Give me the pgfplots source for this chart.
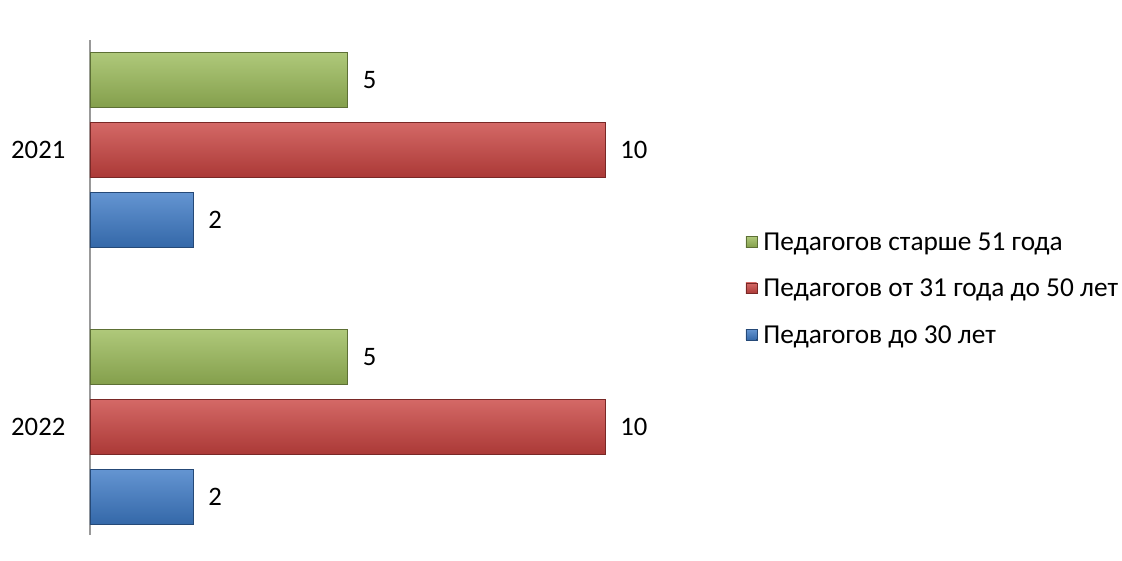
\documentclass[border=0pt]{standalone}
\usepackage{pgfplots}
\pgfplotsset{compat=1.18}
\usepackage{fontspec}
\setmainfont{Carlito}
\definecolor{gM}{HTML}{9BBB59}
\definecolor{rM}{HTML}{C94340}
\definecolor{bM}{HTML}{3D7AC6}
\pgfplotsset{
  gbar/.style={draw=gM!60!black, line width=0.3pt, top color=gM!80!white, middle color=gM, bottom color=gM!85!black},
  rbar/.style={draw=rM!60!black, line width=0.3pt, top color=rM!80!white, middle color=rM, bottom color=rM!85!black},
  bbar/.style={draw=bM!60!black, line width=0.3pt, top color=bM!80!white, middle color=bM, bottom color=bM!85!black},
}
\begin{document}
\begin{tikzpicture}
\path[use as bounding box] (0,0) rectangle (841.5pt,420.75pt);
\begin{axis}[
  at={(67.5pt,19.5pt)}, anchor=south west,
  scale only axis, width=386.25pt, height=371.25pt,
  xmin=0, xmax=10, ymin=-0.39, ymax=1.397,
  axis x line=none,
  axis y line*=left,
  y axis line style={draw=gray!80, line width=0.8pt, -},
  ytick={0,1}, yticklabels={2022,2021},
  major tick length=0pt,
  /pgf/number format/assume math mode=true,
  yticklabel style={font=\fontsize{20}{24}\selectfont, xshift=-15pt},
  xbar, bar width=0.1986,
  clip=false,
  nodes near coords,
  every node near coord/.append style={font=\fontsize{20}{24}\selectfont, anchor=west, xshift=8pt, text=black},
  legend style={at={(1.273,0.497)}, anchor=west, draw=none, fill=none,
    font=\fontsize{20.5}{24}\selectfont, row sep=16pt, inner sep=0pt},
  legend cell align=left,
]
\addplot[bar shift=0.2527, gbar,
  legend image code/.code={\fill[top color=gM!80!white,bottom color=gM!85!black,draw=gM!60!black,line width=0.2pt] (0pt,-3.5pt) rectangle (8pt,4.5pt);}]
  coordinates {(5,1)};
\addplot[bar shift=0, rbar,
  legend image code/.code={\fill[top color=rM!80!white,bottom color=rM!85!black,draw=rM!60!black,line width=0.2pt] (0pt,-3.5pt) rectangle (8pt,4.5pt);}]
  coordinates {(10,1)};
\addplot[bar shift=-0.2527, bbar,
  legend image code/.code={\fill[top color=bM!80!white,bottom color=bM!85!black,draw=bM!60!black,line width=0.2pt] (0pt,-3.5pt) rectangle (8pt,4.5pt);}]
  coordinates {(2,1)};
\addplot[bar shift=0.2527, gbar, forget plot] coordinates {(5,0)};
\addplot[bar shift=0, rbar, forget plot] coordinates {(10,0)};
\addplot[bar shift=-0.2527, bbar, forget plot] coordinates {(2,0)};
\legend{\hspace{3pt}Педагогов старше 51 года, \hspace{3pt}Педагогов от 31 года до 50 лет, \hspace{3pt}Педагогов до 30 лет}
\end{axis}
\end{tikzpicture}
\end{document}
